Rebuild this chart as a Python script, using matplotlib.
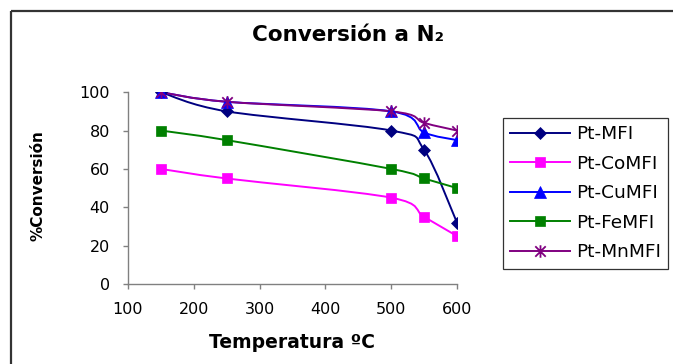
import numpy as np
import matplotlib
matplotlib.use("Agg")
import matplotlib.pyplot as plt
from matplotlib.path import Path
from matplotlib.patches import PathPatch
from matplotlib.lines import Line2D

plt.rcParams['font.family'] = ['DejaVu Sans']

# datos
temperatura = [150, 250, 500, 550, 600]
pt_mfi = [100, 90, 80, 70, 32]
pt_comfi = [60, 55, 45, 35, 25]
pt_cumfi = [100, 95, 90, 79, 75]
pt_femfi = [80, 75, 60, 55, 50]
pt_mnmfi = [100, 95, 90, 84, 80]

nombres = ['Pt-MFI', 'Pt-CoMFI', 'Pt-CuMFI', 'Pt-FeMFI', 'Pt-MnMFI']
series = [pt_mfi, pt_comfi, pt_cumfi, pt_femfi, pt_mnmfi]
colores = ['#000080', '#FF00FF', '#0000FF', '#008000', '#800080']

# asterisco tipo excel (x + barra vertical)
star = Path([(-1, -1), (1, 1), (-1, 1), (1, -1), (0, -1.2), (0, 1.2)],
            [Path.MOVETO, Path.LINETO, Path.MOVETO, Path.LINETO, Path.MOVETO, Path.LINETO])
marcadores = ['D', 's', '^', 's', star]
tamanos = [6.5, 7, 8, 7, 9]


def curva_suave(x, y):
    # linea suavizada estilo excel (catmull-rom -> bezier)
    p = np.column_stack([x, y]).astype(float)
    ext = np.vstack([p[0], p, p[-1]])
    verts = [tuple(p[0])]
    codes = [Path.MOVETO]
    for i in range(len(p) - 1):
        p0, p1, p2, p3 = ext[i], ext[i + 1], ext[i + 2], ext[i + 3]
        c1 = p1 + (p2 - p0) / 6.0
        c2 = p2 - (p3 - p1) / 6.0
        verts += [tuple(c1), tuple(c2), tuple(p2)]
        codes += [Path.CURVE4] * 3
    return Path(verts, codes)


fig = plt.figure(figsize=(6.73, 3.64), dpi=100)
ax = fig.add_axes([0.190, 0.2198, 0.489, 0.527])

handles = []
for nom, ys, col, mk, ms in zip(nombres, series, colores, marcadores, tamanos):
    ax.add_patch(PathPatch(curva_suave(temperatura, ys), facecolor='none',
                           edgecolor=col, lw=1.4, zorder=2))
    mew = 1.3 if mk is star else 0.5
    ax.plot(temperatura, ys, linestyle='none', marker=mk, markersize=ms,
            color=col, markeredgecolor=col, markeredgewidth=mew, zorder=3)
    handles.append(Line2D([], [], color=col, lw=1.4, marker=mk, markersize=ms,
                          markeredgecolor=col, markeredgewidth=mew))

ax.set_xlim(100, 600)
ax.set_ylim(0, 100)
ax.set_xticks(np.arange(100, 601, 100))
ax.set_yticks(np.arange(0, 101, 20))
for s in ['top', 'right']:
    ax.spines[s].set_visible(False)
for s in ['left', 'bottom']:
    ax.spines[s].set_color('#808080')
    ax.spines[s].set_linewidth(1.0)
ax.tick_params(axis='both', direction='out', length=3.5, width=1.0,
               color='#808080', labelsize=11.5, pad=9.5, labelcolor='black')

fig.text(348 / 673, 1 - 35 / 364, 'Conversión a N₂', ha='center', va='center',
         fontsize=15.5, fontweight='bold')
fig.text(292 / 673, 1 - 342 / 364, 'Temperatura ºC', ha='center', va='center',
         fontsize=13.5, fontweight='bold')
fig.text(38 / 673, 1 - 186 / 364, '%Conversión', ha='center', va='center',
         rotation=90, fontsize=11, fontweight='bold')

leg = fig.legend(handles, nombres, loc='upper left',
                 bbox_to_anchor=(503 / 673, 1 - 118 / 364),
                 fontsize=13.3, frameon=True, fancybox=False, shadow=False,
                 handlelength=3.2, handletextpad=0.35, labelspacing=0.62,
                 borderpad=0.4, borderaxespad=0)
leg.get_frame().set_edgecolor('black')
leg.get_frame().set_linewidth(0.9)

# marco del grafico (solo se ven borde superior e izquierdo)
x0 = 10.5 / 673
y_top = 1 - 10.5 / 364
fig.add_artist(Line2D([x0, 1.0], [y_top, y_top], transform=fig.transFigure,
                      color='#333333', lw=1.6, solid_capstyle='butt'))
fig.add_artist(Line2D([x0, x0], [0.0, y_top], transform=fig.transFigure,
                      color='#333333', lw=1.6, solid_capstyle='butt'))

fig.savefig('out.png', dpi=100)
